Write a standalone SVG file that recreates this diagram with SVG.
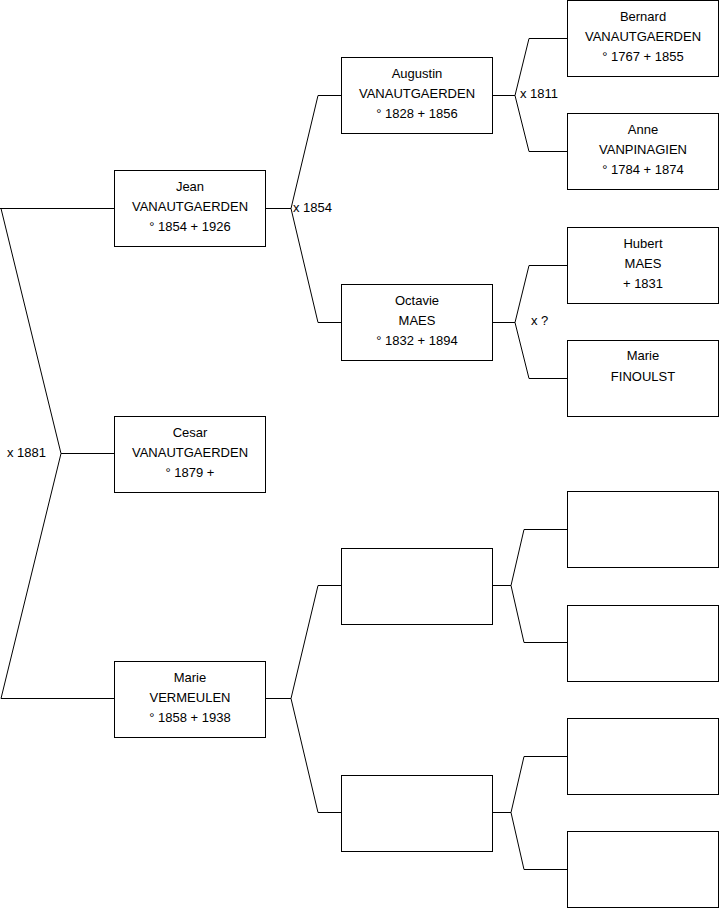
<svg xmlns="http://www.w3.org/2000/svg" width="719" height="908" viewBox="0 0 719 908">
<style>
.box{fill:#fff;stroke:#000;stroke-width:1}
.c{fill:none;stroke:#000;stroke-width:1}
text{font-family:"Liberation Sans",Arial,sans-serif;font-size:13px;fill:#000}
.m{text-anchor:middle}
</style>
<rect width="719" height="908" fill="#fff"/>
<g id="connectors">
<polyline class="c" points="114,208.5 0,208.5"/>
<polyline class="c" points="1,208.5 61,453.5 114,453.5"/>
<polyline class="c" points="61,453.5 1,698.5 114,698.5"/>
<polyline class="c" points="265,208.5 291,208.5 318,95.5 341,95.5"/>
<polyline class="c" points="291,208.5 318,322.5 341,322.5"/>
<polyline class="c" points="265,698.5 291,698.5 318,585.5 341,585.5"/>
<polyline class="c" points="291,698.5 318,812.5 341,812.5"/>
<polyline class="c" points="492,95.5 515,95.5 529,38.5 567,38.5"/>
<polyline class="c" points="515,95.5 529,151.5 567,151.5"/>
<polyline class="c" points="492,322.5 515,322.5 529,265.5 567,265.5"/>
<polyline class="c" points="515,322.5 529,378.5 567,378.5"/>
<polyline class="c" points="492,585.5 511,585.5 524,529.5 567,529.5"/>
<polyline class="c" points="511,585.5 524,642.5 567,642.5"/>
<polyline class="c" points="492,812.5 511,812.5 524,756.5 567,756.5"/>
<polyline class="c" points="511,812.5 524,869.5 567,869.5"/>
<text x="7" y="457">x 1881</text>
<text x="293" y="212">x 1854</text>
<text x="520" y="98">x 1811</text>
<text x="531" y="325">x ?</text>
</g>
<g id="jean"><rect class="box" x="114.5" y="170.5" width="151" height="76"/>
<text class="m" x="190" y="191">Jean</text><text class="m" x="190" y="211">VANAUTGAERDEN</text><text class="m" x="190" y="231">° 1854 + 1926</text></g>
<g id="cesar"><rect class="box" x="114.5" y="416.5" width="151" height="76"/>
<text class="m" x="190" y="437">Cesar</text><text class="m" x="190" y="457">VANAUTGAERDEN</text><text class="m" x="190" y="477">° 1879 +</text></g>
<g id="marie-v"><rect class="box" x="114.5" y="661.5" width="151" height="76"/>
<text class="m" x="190" y="682">Marie</text><text class="m" x="190" y="702">VERMEULEN</text><text class="m" x="190" y="722">° 1858 + 1938</text></g>
<g id="augustin"><rect class="box" x="341.5" y="57.5" width="151" height="76"/>
<text class="m" x="417" y="78">Augustin</text><text class="m" x="417" y="98">VANAUTGAERDEN</text><text class="m" x="417" y="118">° 1828 + 1856</text></g>
<g id="octavie"><rect class="box" x="341.5" y="284.5" width="151" height="76"/>
<text class="m" x="417" y="305">Octavie</text><text class="m" x="417" y="325">MAES</text><text class="m" x="417" y="345">° 1832 + 1894</text></g>
<g id="empty-2a"><rect class="box" x="341.5" y="548.5" width="151" height="76"/></g>
<g id="empty-2b"><rect class="box" x="341.5" y="775.5" width="151" height="76"/></g>
<g id="bernard"><rect class="box" x="567.5" y="0.5" width="151" height="76"/>
<text class="m" x="643" y="21">Bernard</text><text class="m" x="643" y="41">VANAUTGAERDEN</text><text class="m" x="643" y="61">° 1767 + 1855</text></g>
<g id="anne"><rect class="box" x="567.5" y="113.5" width="151" height="76"/>
<text class="m" x="643" y="134">Anne</text><text class="m" x="643" y="154">VANPINAGIEN</text><text class="m" x="643" y="174">° 1784 + 1874</text></g>
<g id="hubert"><rect class="box" x="567.5" y="227.5" width="151" height="76"/>
<text class="m" x="643" y="248">Hubert</text><text class="m" x="643" y="268">MAES</text><text class="m" x="643" y="288">+ 1831</text></g>
<g id="marie-f"><rect class="box" x="567.5" y="340.5" width="151" height="76"/>
<text class="m" x="643" y="360">Marie</text><text class="m" x="643" y="381">FINOULST</text></g>
<g id="empty-3a"><rect class="box" x="567.5" y="491.5" width="151" height="76"/></g>
<g id="empty-3b"><rect class="box" x="567.5" y="605.5" width="151" height="76"/></g>
<g id="empty-3c"><rect class="box" x="567.5" y="718.5" width="151" height="76"/></g>
<g id="empty-3d"><rect class="box" x="567.5" y="831.5" width="151" height="76"/></g>
</svg>
